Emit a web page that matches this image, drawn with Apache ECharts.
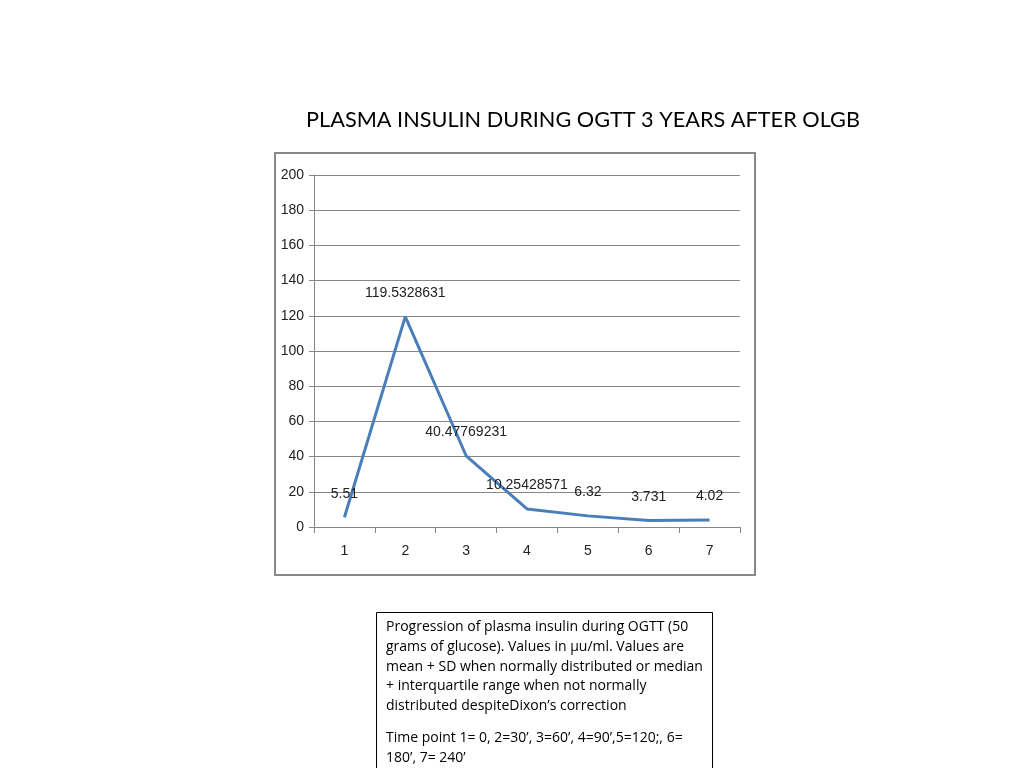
<!DOCTYPE html>
<html>
<head>
<meta charset="utf-8">
<script src="https://cdn.jsdelivr.net/npm/echarts@6/dist/echarts.min.js"></script>
<style>
html,body{margin:0;padding:0;background:#fff;}
#main{width:1024px;height:768px;}
</style>
</head>
<body>
<div id="main"></div>
<script>
// time points and mean insulin values (µu/ml)
var timePoints = ['1', '2', '3', '4', '5', '6', '7'];
var insulin = [5.51, 119.5328631, 40.47769231, 10.25428571, 6.32, 3.731, 4.02];
var yTicks = {min: 0, max: 200, step: 20};

var chartTitle = 'PLASMA INSULIN DURING OGTT 3 YEARS AFTER OLGB';
var noteLines = [
	'Progression of plasma insulin during OGTT (50',
	'grams of glucose). Values in µu/ml. Values are',
	'mean + SD when normally distributed or median',
	'+ interquartile range when not normally',
	'distributed despiteDixon’s correction'
];
var noteLines2 = [
	'Time point 1= 0, 2=30’, 3=60’, 4=90’,5=120;, 6=',
	'180’, 7= 240’'
];

window.onload = function(){
	var myChart = echarts.init(document.getElementById('main'));
	var lblFont = '"Liberation Sans Narrow", "Arial Narrow", "Liberation Sans", sans-serif';
	var txtFont = '"Open Sans", "Liberation Sans", sans-serif';

	var noteEls = [];
	noteLines.forEach(function(t, i){
		noteEls.push({type: 'text', left: 386, top: 620 + i * 19.8,
			style: {text: t, font: '14px ' + txtFont, fill: '#000'}});
	});
	noteLines2.forEach(function(t, i){
		noteEls.push({type: 'text', left: 386, top: 731 + i * 19.8,
			style: {text: t, font: '14px ' + txtFont, fill: '#000'}});
	});

	myChart.setOption({
		animation: false,
		title: {
			text: chartTitle,
			left: 578, top: 104, textAlign: 'center',
			textStyle: {fontFamily: 'Lato, "Liberation Sans", sans-serif', fontSize: 21.7, fontWeight: 'normal', color: '#000'}
		},
		grid: {left: 314, right: 284, top: 175, bottom: 241},
		xAxis: {
			type: 'category',
			data: timePoints,
			boundaryGap: true,
			axisLine: {lineStyle: {color: '#868686', width: 1}},
			axisTick: {show: true, length: 6, interval: 0, lineStyle: {color: '#868686'}},
			axisLabel: {margin: 17, fontFamily: lblFont, fontSize: 14, color: '#222'}
		},
		yAxis: {
			type: 'value',
			min: yTicks.min, max: yTicks.max, interval: yTicks.step,
			axisLine: {show: true, lineStyle: {color: '#868686', width: 1}},
			axisTick: {show: true, length: 5, lineStyle: {color: '#868686'}},
			axisLabel: {margin: 10, fontFamily: lblFont, fontSize: 14, color: '#222'},
			splitLine: {lineStyle: {color: '#868686', width: 1}}
		},
		series: [{
			type: 'line',
			data: insulin,
			symbol: 'circle',
			symbolSize: 1,
			showSymbol: true,
			itemStyle: {color: 'rgba(0,0,0,0)'},
			lineStyle: {color: '#4a7ebb', width: 3},
			label: {
				show: true, position: 'top', distance: 16,
				fontFamily: lblFont, fontSize: 14, color: '#222',
				formatter: function(p){ return String(p.value); }
			},
			labelLayout: {hideOverlap: false}
		}],
		graphic: [
			{type: 'rect', shape: {x: 275, y: 153, width: 480, height: 422},
				style: {fill: 'none', stroke: '#888', lineWidth: 2}, z: -1},
			{type: 'rect', shape: {x: 376.5, y: 612.5, width: 336, height: 170},
				style: {fill: 'none', stroke: '#000', lineWidth: 1}}
		].concat(noteEls)
	});
};
</script>
</body>
</html>
